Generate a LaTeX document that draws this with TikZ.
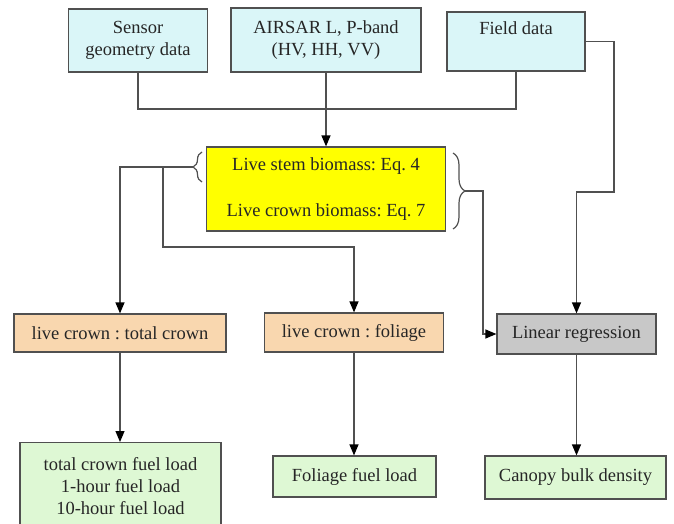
\documentclass[tikz,border=0pt]{standalone}
\usepackage{fontspec}
\setmainfont{Liberation Serif}
\usetikzlibrary{arrows.meta,decorations.pathreplacing}
\frenchspacing

\definecolor{inputblue}{RGB}{218,246,248}
\definecolor{eqyellow}{RGB}{255,255,0}
\definecolor{ratiotan}{RGB}{249,215,175}
\definecolor{reggray}{RGB}{200,200,200}
\definecolor{fuelgreen}{RGB}{222,248,212}
\definecolor{linegray}{RGB}{80,80,80}

\begin{document}
\begin{tikzpicture}[
		x=1pt, y=-1pt,
		font=\fontsize{18.5}{22}\selectfont,
		box/.style={draw=linegray, line width=1.2pt, inner sep=0pt, align=center, text=black!85},
		input/.style={box, fill=inputblue},
		model/.style={box, fill=eqyellow},
		ratio/.style={box, fill=ratiotan},
		regress/.style={box, fill=reggray},
		fuel/.style={box, fill=fuelgreen},
		link/.style={draw=linegray, line width=1.2pt},
		flow/.style={link, -{Triangle[width=9pt,length=11pt,color=black]}},
		curly/.style={link, decorate, decoration={brace, amplitude=#1}},
	]
		\useasboundingbox (0,0) rectangle (674,524);
		
		% inputs
		\node (sensor) [input, minimum width=139pt, minimum height=63pt] at (138,40.5) {Sensor\\geometry data};
		\node (airsar) [input, minimum width=190pt, minimum height=64pt] at (326,40) {AIRSAR L, P-band\\(HV, HH, VV)};
		\node (field) [input, minimum width=138pt, minimum height=59pt, text height=13pt, text depth=27pt] at (516,41.5) {Field data};
		
		% biomass equations
		\node (biomass) [model, minimum width=239pt, minimum height=84pt] at (326,189) {Live stem biomass: Eq. 4\\[24pt]Live crown biomass: Eq. 7};
		
		% ratios and regression
		\node (totratio) [ratio, minimum width=212pt, minimum height=38pt] at (120,333) {live crown : total crown};
		\node (folratio) [ratio, minimum width=179pt, minimum height=39pt] at (354,332.5) {live crown : foliage};
		\node (linreg) [regress, minimum width=159pt, minimum height=40pt] at (576.5,334) {Linear regression};
		
		% fuel outputs
		\node (totfuel) [fuel, anchor=north, minimum width=201pt, minimum height=86pt] at (120.5,442) {total crown fuel load\\1-hour fuel load\\10-hour fuel load};
		\node (folfuel) [fuel, minimum width=163pt, minimum height=41pt] at (354.5,476.5) {Foliage fuel load};
		\node (canopy) [fuel, minimum width=181pt, minimum height=43pt] at (575.5,477.5) {Canopy bulk density};
		
		% braces round the equations
		\draw[curly=9pt] (202,182) -- (202,152);
		\draw[curly=12pt] (453,153) -- (453,229);
		\coordinate (lbrace) at (193,167);
		\coordinate (rbrace) at (465,191);
		\coordinate (lsplit) at (163,167);
		\coordinate (join) at (326,109);
		\coordinate (fieldbend) at (614,192);
		
		\draw[link] (sensor.south) |- (join) -| (field.south);
		\draw[flow] (airsar.south) -- (airsar.south|-biomass.north);
		\draw[flow] (field.east) -| (fieldbend) -| (linreg.north);
		
		\draw[flow] (lbrace) -| (totratio.north);
		\draw[flow] (lsplit) |- (folratio.north|-0,247) -- (folratio.north);
		\draw[flow] (rbrace) -- (483,191) |- (linreg.west);
		
		\draw[flow] (totratio.south) -- (totratio.south|-totfuel.north);
		\draw[flow] (folratio.south) -- (folratio.south|-folfuel.north);
		\draw[flow] (linreg.south) -- (linreg.south|-canopy.north);
	\end{tikzpicture}
\end{document}
